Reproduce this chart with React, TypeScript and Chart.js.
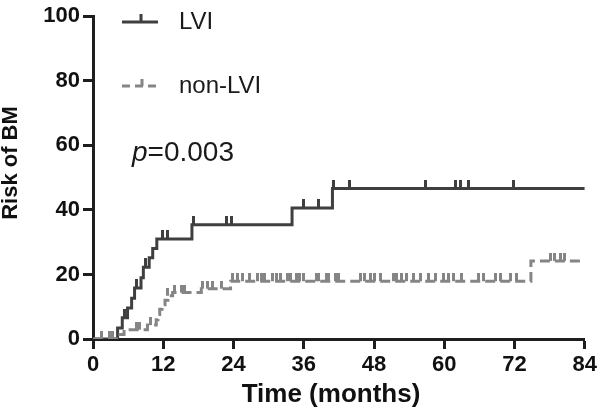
import React, { useEffect, useRef } from "react";
import { Chart, registerables } from "chart.js";

Chart.register(...registerables);

// Step-function data (event times in months, cumulative risk in %)
const lviTimes = [0, 4.2, 5.0, 5.9, 6.6, 7.1, 8.2, 8.6, 9.6, 10.2, 10.9, 16.9, 34.0, 40.9, 84];
const lviRisk = [0, 3.4, 6.6, 9.6, 12.6, 15.8, 19.0, 22.2, 25.2, 28.0, 31.0, 35.4, 40.6, 46.6, 46.6];
const lviCensored = [5.3, 7.4, 8.9, 11.9, 12.8, 17.1, 22.8, 23.6, 35.9, 38.6, 41.1, 43.8, 56.8, 61.9, 62.8, 64.1, 71.8];

const nonTimes = [0, 4.3, 5.3, 9.3, 10.8, 11.1, 11.4, 11.8, 12.3, 12.8, 13.6, 18.5, 23.5, 74.8, 83.8];
const nonRisk = [0, 1.4, 2.9, 4.3, 6.0, 7.6, 9.2, 10.6, 12.0, 13.4, 14.4, 15.6, 17.9, 24.2, 24.2];
const nonCensored = [1.4, 2.9, 3.4, 7.5, 8.0, 9.8, 12.8, 13.9, 15.1, 15.6, 18.7, 19.6, 20.4, 21.9, 23.8, 24.7, 25.5, 26.7, 28.1, 28.7, 29.3, 30.6, 31.3, 32.1, 33.2, 33.8, 34.7, 35.2, 36.0, 38.1, 38.6, 39.8, 40.3, 41.5, 42.0, 45.7, 46.3, 47.4, 48.0, 49.1, 51.4, 51.9, 52.7, 53.6, 54.8, 56.0, 57.3, 58.5, 59.9, 60.7, 61.6, 62.9, 65.8, 66.7, 68.7, 69.6, 71.4, 72.3, 78.1, 78.9, 79.8, 80.6];

const xTicks = [0, 12, 24, 36, 48, 60, 72, 84];
const yTicks = [0, 20, 40, 60, 80, 100];
const seriesNames = ["LVI", "non-LVI"];
const xTitle = "Time (months)";
const yTitle = "Risk of BM";
const pText = "0.003";

const LVI_COLOR = "#3f3f3f";
const NON_COLOR = "#858585";
const AXIS_COLOR = "#1e1e1e";
const FONT = "'Liberation Sans', Arial, Helvetica, sans-serif";

function levelAt(times: number[], risk: number[], t: number) {
  let v = 0;
  for (let i = 0; i < times.length; i++) if (times[i] <= t) v = risk[i];
  return v;
}

function tickImage(color: string, h: number, w: number) {
  const c = document.createElement("canvas");
  c.width = w;
  c.height = h * 2;
  const ctx = c.getContext("2d")!;
  ctx.fillStyle = color;
  ctx.fillRect(0, 0, w, h);
  return c;
}

const annotPlugin = {
  id: "kmAnnot",
  afterDraw(chart: any) {
    const ctx = chart.ctx;
    ctx.save();
    // LVI legend
    ctx.strokeStyle = LVI_COLOR;
    ctx.lineWidth = 3;
    ctx.setLineDash([]);
    ctx.beginPath();
    ctx.moveTo(122, 22);
    ctx.lineTo(158, 22);
    ctx.moveTo(141, 14);
    ctx.lineTo(141, 22);
    ctx.stroke();
    // non-LVI legend
    ctx.strokeStyle = NON_COLOR;
    ctx.setLineDash([8, 5]);
    ctx.beginPath();
    ctx.moveTo(122, 86);
    ctx.lineTo(160, 86);
    ctx.stroke();
    ctx.setLineDash([]);
    ctx.beginPath();
    ctx.moveTo(142, 79);
    ctx.lineTo(142, 86);
    ctx.stroke();

    ctx.fillStyle = "#1a1a1a";
    ctx.textBaseline = "middle";
    ctx.textAlign = "left";
    ctx.font = `24px ${FONT}`;
    ctx.fillText(seriesNames[0], 179, 22);
    ctx.fillText(seriesNames[1], 179, 86);

    ctx.font = `italic 28px ${FONT}`;
    ctx.fillText("p", 132, 153);
    const pw = ctx.measureText("p").width;
    ctx.font = `28px ${FONT}`;
    ctx.fillText("=" + pText, 132 + pw, 153);

    // axis titles
    ctx.fillStyle = "#111";
    ctx.textAlign = "center";
    ctx.font = `bold 26px ${FONT}`;
    ctx.fillText(xTitle, 331, 395);
    ctx.translate(11, 163);
    ctx.rotate(-Math.PI / 2);
    ctx.font = `bold 22px ${FONT}`;
    ctx.fillText(yTitle, 0, 0);
    ctx.restore();
  },
};

export default function App() {
  const ref = useRef<HTMLCanvasElement | null>(null);

  useEffect(() => {
    document.body.style.margin = "0";
    const canvas = ref.current;
    if (!canvas) return;
    const lviLine = lviTimes.map((t, i) => ({ x: t, y: lviRisk[i] }));
    const nonLine = nonTimes.map((t, i) => ({ x: t, y: nonRisk[i] }));
    const lviCens = lviCensored.map((t) => ({ x: t, y: levelAt(lviTimes, lviRisk, t) }));
    const nonCens = nonCensored.map((t) => ({ x: t, y: levelAt(nonTimes, nonRisk, t) }));

    const chart = new Chart(canvas, {
      type: "line",
      data: {
        datasets: [
          {
            label: seriesNames[1],
            data: nonLine,
            borderColor: NON_COLOR,
            borderWidth: 3,
            borderDash: [10, 5],
            stepped: true,
            pointRadius: 0,
            fill: false,
          },
          {
            label: seriesNames[1] + " censored",
            data: nonCens,
            showLine: false,
            pointStyle: tickImage(NON_COLOR, 8, 3) as any,
            pointRadius: 3,
          },
          {
            label: seriesNames[0],
            data: lviLine,
            borderColor: LVI_COLOR,
            borderWidth: 3,
            stepped: true,
            pointRadius: 0,
            fill: false,
          },
          {
            label: seriesNames[0] + " censored",
            data: lviCens,
            showLine: false,
            pointStyle: tickImage(LVI_COLOR, 9, 3) as any,
            pointRadius: 3,
          },
        ],
      },
      options: {
        responsive: false,
        animation: false,
        layout: { padding: { top: 11, right: 13, left: 0, bottom: 0 } },
        plugins: { legend: { display: false }, tooltip: { enabled: false } },
        scales: {
          x: {
            type: "linear",
            min: 0,
            max: 84,
            afterBuildTicks: (s: any) => {
              s.ticks = xTicks.map((v) => ({ value: v }));
            },
            ticks: { font: { family: FONT, size: 22, weight: "bold" }, color: "#111", padding: 3, maxRotation: 0 },
            grid: { drawOnChartArea: false, drawTicks: true, tickLength: 10, tickWidth: 3, tickColor: AXIS_COLOR },
            border: { width: 3, color: AXIS_COLOR },
            title: { display: false },
            afterFit: (s: any) => {
              s.height = 77;
            },
          },
          y: {
            min: 0,
            max: 100,
            afterBuildTicks: (s: any) => {
              s.ticks = yTicks.map((v) => ({ value: v }));
            },
            ticks: { font: { family: FONT, size: 22, weight: "bold" }, color: "#111", padding: 3 },
            grid: { drawOnChartArea: false, drawTicks: true, tickLength: 10, tickWidth: 3, tickColor: AXIS_COLOR },
            border: { width: 3, color: AXIS_COLOR },
            title: { display: false },
            afterFit: (s: any) => {
              s.width = 93;
            },
          },
        },
      },
      plugins: [annotPlugin],
    } as any);
    return () => chart.destroy();
  }, []);

  return (
    <div style={{ position: "fixed", left: 0, top: 0, width: 600, height: 416, background: "#fff" }}>
      <canvas ref={ref} width={600} height={416} style={{ width: 600, height: 416 }} />
    </div>
  );
}
